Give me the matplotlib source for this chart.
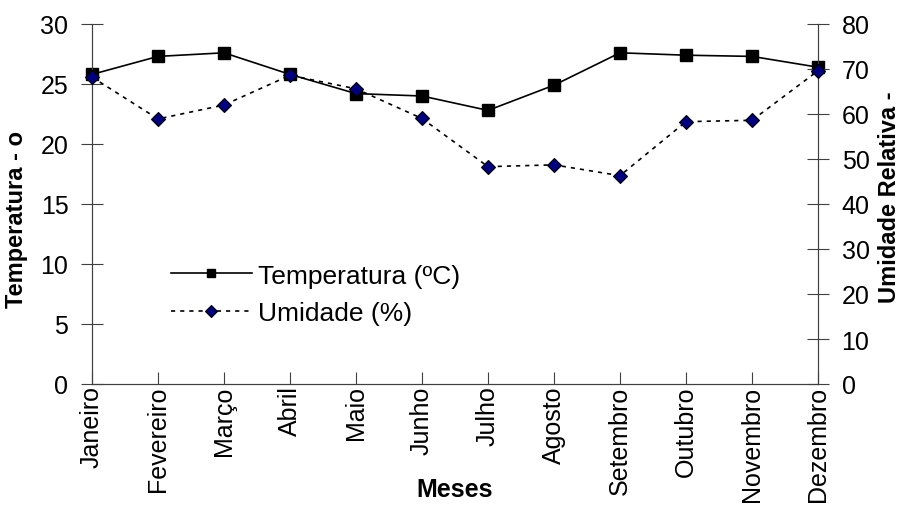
import matplotlib
matplotlib.use("Agg")
import matplotlib.pyplot as plt

plt.rcParams['font.family'] = ['Liberation Sans', 'DejaVu Sans']

meses = ['Janeiro', 'Fevereiro', 'Março', 'Abril', 'Maio', 'Junho',
         'Julho', 'Agosto', 'Setembro', 'Outubro', 'Novembro', 'Dezembro']
temperatura = [25.8, 27.3, 27.6, 25.8, 24.2, 24.0, 22.8, 24.9, 27.6, 27.4, 27.3, 26.4]
umidade = [68.2, 58.9, 62.0, 68.6, 65.6, 59.0, 48.3, 48.7, 46.3, 58.3, 58.6, 69.6]

W, H = 907, 506
fig = plt.figure(figsize=(W / 100, H / 100), dpi=100)
ax = fig.add_axes([92 / W, 1 - 385 / H, (818 - 92) / W, (385 - 25) / H])
ax2 = ax.twinx()

x = list(range(len(meses)))
l1, = ax.plot(x, temperatura, color='black', lw=1.2, marker='s', ms=8.5,
              markerfacecolor='black', label='Temperatura (ºC)', clip_on=False, zorder=3)
l2, = ax2.plot(x, umidade, color='black', lw=1.2, ls=(0, (2.5, 3)), marker='D', ms=7.5,
               markerfacecolor='#000080', markeredgecolor='black', markeredgewidth=0.8,
               label='Umidade (%)', clip_on=False, zorder=3)

ax.set_xlim(0, len(meses) - 1)
ax.set_ylim(0, 30)
ax2.set_ylim(0, 80)
ax.set_yticks(range(0, 31, 5))
ax2.set_yticks(range(0, 81, 10))
ax.set_xticks(x)
ax.set_xticklabels(meses, rotation=90, fontsize=18)

for a in (ax, ax2):
    a.spines['top'].set_visible(False)
    for s in a.spines.values():
        s.set_color('#404040')
ax.tick_params(axis='y', direction='inout', length=16, labelsize=18, pad=9, color='#404040')
ax2.tick_params(axis='y', direction='inout', length=16, labelsize=18, pad=9, color='#404040')
ax.tick_params(axis='x', direction='in', length=9, pad=1, color='#404040')

# axis titles placed by hand, the x title sits between the rotated month names
fig.text(455 / W, 1 - 490 / H, 'Meses', fontsize=18, fontweight='bold',
         ha='center', va='center')
fig.text(17 / W, 1 - 220 / H, 'Temperatura - o', fontsize=17, fontweight='bold',
         rotation=90, ha='center', va='center')
fig.text(890 / W, 1 - 197 / H, 'Umidade Relativa -', fontsize=17, fontweight='bold',
         rotation=90, ha='center', va='center')

ax.legend(handles=[l1, l2], loc='upper left', bbox_to_anchor=(160 / W, 1 - 254 / H),
          bbox_transform=fig.transFigure, borderaxespad=0,
          frameon=False, fontsize=19, handlelength=3.1, handletextpad=0.2,
          labelspacing=0.5, markerscale=0.75)

fig.savefig('out.png', dpi=100)
